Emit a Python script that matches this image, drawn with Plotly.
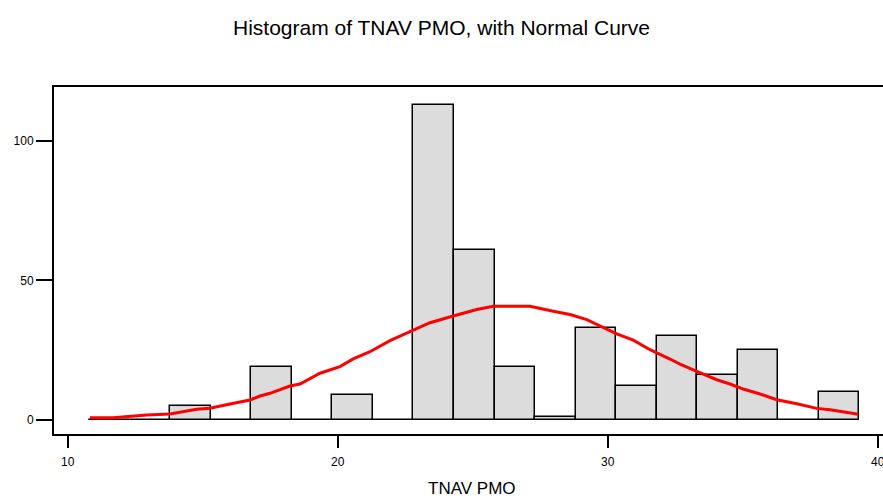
import plotly.graph_objects as go

# Histogram bins (bin width 1.5, first edge 10.8)
bin_centers = [11.55, 13.05, 14.55, 16.05, 17.55, 19.05, 20.55, 22.05, 23.55, 25.05,
               26.55, 28.05, 29.55, 31.05, 32.55, 34.05, 35.55, 37.05, 38.55]
counts = [0, 0, 5, 0, 19, 0, 9, 0, 113, 61, 19, 1, 33, 12, 30, 16, 25, 0, 10]
bin_width = 1.5

# Normal curve
curve_x = [10.83, 11.69, 12.93, 13.79, 14.78, 15.27, 16.01, 16.75, 17.12, 17.49, 18.23,
           18.60, 19.34, 20.08, 20.57, 21.19, 21.93, 22.67, 23.41, 24.27, 25.14, 25.75,
           26.43, 27.11, 27.97, 28.59, 29.21, 29.70, 30.32, 30.93, 31.55, 32.29, 32.66,
           33.28, 34.02, 34.51, 35.00, 35.62, 36.24, 36.98, 37.72, 38.21, 38.83, 39.26]
curve_y = [0.72, 0.72, 1.69, 2.05, 3.76, 4.12, 5.67, 7.07, 8.50, 9.47, 12.09,
           12.81, 16.68, 19.05, 21.81, 24.40, 28.35, 31.47, 34.80, 37.22, 39.53, 40.73,
           40.85, 40.73, 38.94, 37.75, 35.95, 33.80, 30.83, 28.53, 25.12, 21.78, 19.98,
           17.33, 14.35, 12.81, 11.01, 9.22, 7.17, 5.74, 4.06, 3.59, 2.76, 1.94]

x_ticks = [10, 20, 30, 40]
x_tick_text = ["10", "20", "30", "40"]
y_ticks = [0, 50, 100]

FONT = "Liberation Sans, Arial, sans-serif"
X0, X1 = 9.5, 40.17

fig = go.Figure()
fig.add_trace(go.Bar(
    x=bin_centers, y=counts, width=bin_width,
    marker=dict(color="#dcdcdc", line=dict(color="black", width=1.5)),
    hoverinfo="x+y", showlegend=False,
))
fig.add_trace(go.Scatter(
    x=curve_x, y=curve_y, mode="lines",
    line=dict(color="#ff0000", width=3), showlegend=False,
))

# x tick labels as annotations so the one at the right edge is kept (cut like the original)
tick_annots = [dict(text=t, x=v, xref="x", yref="paper", y=-(462 - 434) / 347,
                    xanchor="center", yanchor="middle", showarrow=False,
                    font=dict(size=12, family=FONT, color="black"))
               for v, t in zip(x_ticks, x_tick_text)]

fig.update_layout(
    width=883, height=500,
    margin=dict(l=54, r=0, t=87, b=66),
    paper_bgcolor="white", plot_bgcolor="white",
    font=dict(family=FONT, color="black"),
    bargap=0,
    title=dict(text="Histogram of TNAV PMO, with Normal Curve",
               x=0.5, xanchor="center", y=1 - 28 / 500, yanchor="middle",
               yref="container", font=dict(size=21, family=FONT, color="black")),
    xaxis=dict(range=[X0, X1], tickvals=x_ticks, showticklabels=False,
               ticks="outside", ticklen=12,
               tickwidth=1.5, tickcolor="black", showline=True, linecolor="black",
               linewidth=2, mirror=True, showgrid=False, zeroline=False),
    yaxis=dict(range=[-5.13, 119.4], tickvals=y_ticks, ticks="outside", ticklen=16,
               tickwidth=1.5, tickcolor="black", showline=True, linecolor="black",
               linewidth=2, mirror=False, showgrid=False, zeroline=False,
               tickfont=dict(size=12, family=FONT)),
    annotations=tick_annots + [dict(text="TNAV PMO", xref="paper", yref="paper",
                      x=(472 - 54) / 829, y=-(488 - 434) / 347,
                      xanchor="center", yanchor="middle", showarrow=False,
                      font=dict(size=17, family=FONT, color="black"))],
)

fig.write_html("out.html")
